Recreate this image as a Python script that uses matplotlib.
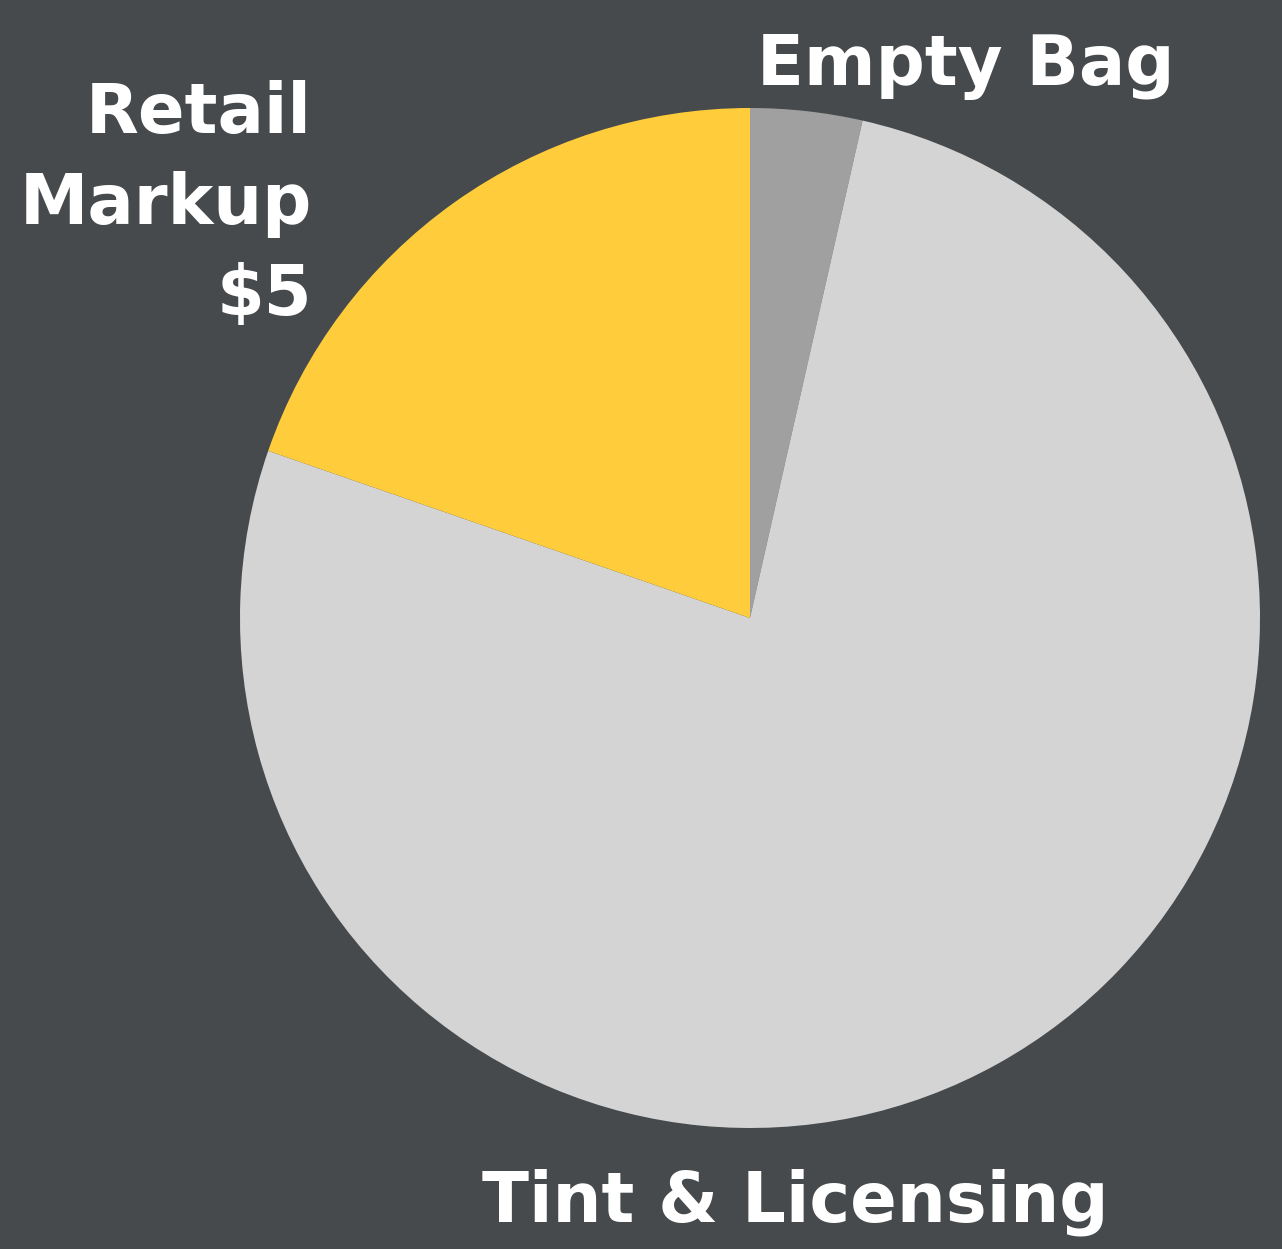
import matplotlib.pyplot as plt

# slice data (clockwise from the top)
labels = ['Empty Bag', 'Tint & Licensing', 'Retail\nMarkup\n$5']
values = [0.9, 19.5, 5]
colors = ['#A0A0A0', '#D4D4D4', '#FFCD3C']
bg = '#464A4C'

W, H = 1282, 1249
fig = plt.figure(figsize=(W / 100, H / 100), dpi=100, facecolor=bg)

# pie axes: center (750, 618) px from top, radius 510 px
cx, cy, r = 750, H - 618, 510
ax = fig.add_axes([(cx - r) / W, (cy - r) / H, 2 * r / W, 2 * r / H])
ax.set_facecolor(bg)
ax.pie(values, colors=colors, startangle=90, counterclock=False, radius=1,
       wedgeprops=dict(linewidth=0))
ax.set_xlim(-1, 1)
ax.set_ylim(-1, 1)
ax.set_aspect('equal')
ax.axis('off')

font = dict(color='white', fontsize=49.5, fontweight='bold', family='DejaVu Sans')
fig.text(757 / W, (H - 85) / H, labels[0], ha='left', va='baseline', **font)
fig.text(482 / W, (H - 1222) / H, labels[1], ha='left', va='baseline', **font)
fig.text(312 / W, (H - 315) / H, labels[2], ha='right', va='baseline',
         multialignment='right', linespacing=1.45, **font)

fig.savefig('out.png', facecolor=bg)
